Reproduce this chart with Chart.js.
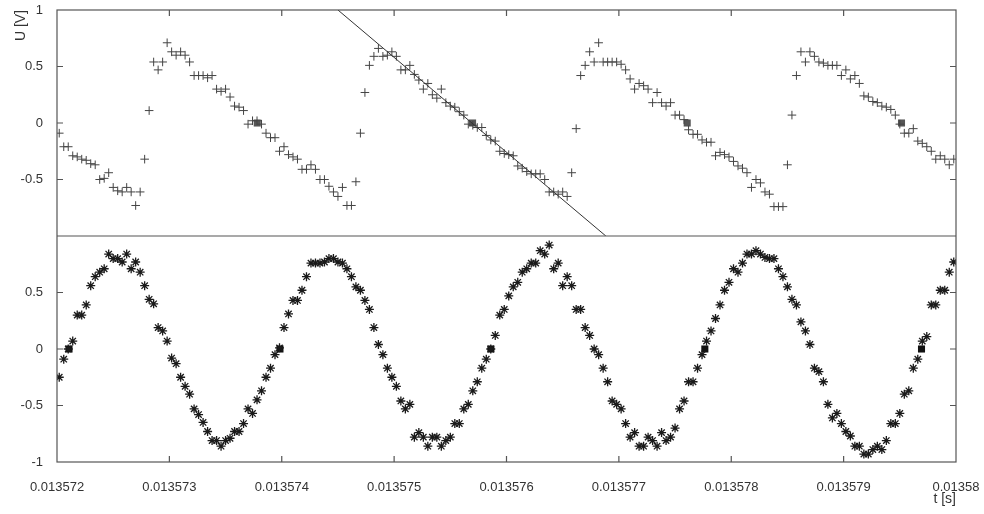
<!DOCTYPE html>
<html>
<head>
<meta charset="utf-8">
<script src="https://cdn.jsdelivr.net/npm/chart.js@4.4.1/dist/chart.umd.min.js"></script>
<style>
html, body { margin: 0; padding: 0; background: #fff; }
</style>
</head>
<body>
<canvas id="grafico" width="984" height="514"></canvas>
<script>
// instantes de muestreo [s]
const tiempos = [
    0.01357202, 0.01357206, 0.01357210, 0.01357214, 0.01357218, 0.01357222, 0.01357226, 0.01357230, 0.01357234, 0.01357238,
    0.01357242, 0.01357246, 0.01357250, 0.01357254, 0.01357258, 0.01357262, 0.01357266, 0.01357270, 0.01357274, 0.01357278,
    0.01357282, 0.01357286, 0.01357290, 0.01357294, 0.01357298,
    0.01357302, 0.01357306, 0.01357310, 0.01357314, 0.01357318, 0.01357322, 0.01357326, 0.01357330, 0.01357334, 0.01357338,
    0.01357342, 0.01357346, 0.01357350, 0.01357354, 0.01357358, 0.01357362, 0.01357366, 0.01357370, 0.01357374, 0.01357378,
    0.01357382, 0.01357386, 0.01357390, 0.01357394, 0.01357398,
    0.01357402, 0.01357406, 0.01357410, 0.01357414, 0.01357418, 0.01357422, 0.01357426, 0.01357430, 0.01357434, 0.01357438,
    0.01357442, 0.01357446, 0.01357450, 0.01357454, 0.01357458, 0.01357462, 0.01357466, 0.01357470, 0.01357474, 0.01357478,
    0.01357482, 0.01357486, 0.01357490, 0.01357494, 0.01357498,
    0.01357502, 0.01357506, 0.01357510, 0.01357514, 0.01357518, 0.01357522, 0.01357526, 0.01357530, 0.01357534, 0.01357538,
    0.01357542, 0.01357546, 0.01357550, 0.01357554, 0.01357558, 0.01357562, 0.01357566, 0.01357570, 0.01357574, 0.01357578,
    0.01357582, 0.01357586, 0.01357590, 0.01357594, 0.01357598,
    0.01357602, 0.01357606, 0.01357610, 0.01357614, 0.01357618, 0.01357622, 0.01357626, 0.01357630, 0.01357634, 0.01357638,
    0.01357642, 0.01357646, 0.01357650, 0.01357654, 0.01357658, 0.01357662, 0.01357666, 0.01357670, 0.01357674, 0.01357678,
    0.01357682, 0.01357686, 0.01357690, 0.01357694, 0.01357698,
    0.01357702, 0.01357706, 0.01357710, 0.01357714, 0.01357718, 0.01357722, 0.01357726, 0.01357730, 0.01357734, 0.01357738,
    0.01357742, 0.01357746, 0.01357750, 0.01357754, 0.01357758, 0.01357762, 0.01357766, 0.01357770, 0.01357774, 0.01357778,
    0.01357782, 0.01357786, 0.01357790, 0.01357794, 0.01357798,
    0.01357802, 0.01357806, 0.01357810, 0.01357814, 0.01357818, 0.01357822, 0.01357826, 0.01357830, 0.01357834, 0.01357838,
    0.01357842, 0.01357846, 0.01357850, 0.01357854, 0.01357858, 0.01357862, 0.01357866, 0.01357870, 0.01357874, 0.01357878,
    0.01357882, 0.01357886, 0.01357890, 0.01357894, 0.01357898,
    0.01357902, 0.01357906, 0.01357910, 0.01357914, 0.01357918, 0.01357922, 0.01357926, 0.01357930, 0.01357934, 0.01357938,
    0.01357942, 0.01357946, 0.01357950, 0.01357954, 0.01357958, 0.01357962, 0.01357966, 0.01357970, 0.01357974, 0.01357978,
    0.01357982, 0.01357986, 0.01357990, 0.01357994, 0.01357998
];

// canal de arriba (diente de sierra) [V]
const tensionSierra = [
    -0.09, -0.21, -0.21, -0.29, -0.30, -0.32, -0.33, -0.36, -0.37, -0.50,
    -0.49, -0.44, -0.57, -0.60, -0.61, -0.57, -0.61, -0.73, -0.61, -0.32,
    0.11, 0.54, 0.47, 0.54, 0.71, 0.63, 0.60, 0.63, 0.60, 0.54,
    0.42, 0.42, 0.42, 0.40, 0.42, 0.30, 0.28, 0.30, 0.23, 0.15,
    0.14, 0.11, -0.01, 0.02, 0.02, -0.01, -0.09, -0.13, -0.13, -0.25,
    -0.21, -0.28, -0.30, -0.32, -0.41, -0.41, -0.37, -0.41, -0.50, -0.50,
    -0.56, -0.61, -0.65, -0.57, -0.73, -0.73, -0.52, -0.09, 0.27, 0.51,
    0.59, 0.66, 0.59, 0.60, 0.63, 0.59, 0.47, 0.47, 0.51, 0.43,
    0.38, 0.30, 0.35, 0.25, 0.22, 0.30, 0.18, 0.15, 0.14, 0.10,
    0.07, -0.01, -0.02, -0.04, -0.04, -0.11, -0.15, -0.16, -0.25, -0.27,
    -0.28, -0.29, -0.38, -0.40, -0.43, -0.45, -0.45, -0.45, -0.50, -0.61,
    -0.61, -0.63, -0.61, -0.65, -0.44, -0.05, 0.42, 0.51, 0.63, 0.54,
    0.71, 0.54, 0.54, 0.54, 0.54, 0.52, 0.47, 0.39, 0.30, 0.35,
    0.33, 0.30, 0.18, 0.27, 0.18, 0.15, 0.18, 0.07, 0.07, 0.03,
    -0.06, -0.10, -0.10, -0.15, -0.17, -0.17, -0.29, -0.26, -0.28, -0.30,
    -0.34, -0.38, -0.40, -0.44, -0.57, -0.50, -0.53, -0.61, -0.63, -0.74,
    -0.74, -0.74, -0.37, 0.07, 0.42, 0.63, 0.54, 0.63, 0.59, 0.54,
    0.53, 0.51, 0.51, 0.51, 0.42, 0.47, 0.39, 0.42, 0.35, 0.24,
    0.23, 0.19, 0.18, 0.15, 0.14, 0.12, 0.07, -0.01, -0.09, -0.09,
    -0.05, -0.16, -0.18, -0.21, -0.25, -0.32, -0.29, -0.32, -0.37, -0.32
];

// canal de abajo (senoidal) [V]
const tensionSeno = [
    -0.25, -0.09, 0.00, 0.07, 0.30, 0.30, 0.39, 0.56, 0.64, 0.68,
    0.71, 0.84, 0.80, 0.80, 0.77, 0.84, 0.71, 0.77, 0.68, 0.56,
    0.44, 0.40, 0.19, 0.16, 0.07, -0.08, -0.13, -0.25, -0.33, -0.40,
    -0.53, -0.58, -0.65, -0.73, -0.81, -0.81, -0.86, -0.81, -0.79, -0.73,
    -0.73, -0.66, -0.53, -0.57, -0.45, -0.37, -0.25, -0.17, -0.05, 0.01,
    0.19, 0.31, 0.43, 0.43, 0.52, 0.64, 0.76, 0.76, 0.76, 0.77,
    0.80, 0.80, 0.77, 0.76, 0.71, 0.64, 0.55, 0.52, 0.43, 0.35,
    0.19, 0.04, -0.05, -0.17, -0.25, -0.33, -0.46, -0.53, -0.49, -0.78,
    -0.74, -0.78, -0.86, -0.78, -0.78, -0.86, -0.81, -0.78, -0.66, -0.66,
    -0.53, -0.49, -0.37, -0.29, -0.17, -0.09, 0.00, 0.12, 0.30, 0.35,
    0.47, 0.55, 0.59, 0.68, 0.71, 0.76, 0.76, 0.87, 0.84, 0.92,
    0.71, 0.76, 0.56, 0.64, 0.56, 0.35, 0.35, 0.19, 0.12, 0.00,
    -0.05, -0.17, -0.29, -0.46, -0.49, -0.53, -0.66, -0.78, -0.74, -0.86,
    -0.86, -0.78, -0.81, -0.86, -0.74, -0.81, -0.78, -0.70, -0.53, -0.46,
    -0.29, -0.29, -0.17, -0.05, 0.07, 0.16, 0.27, 0.39, 0.52, 0.59,
    0.71, 0.68, 0.76, 0.84, 0.84, 0.87, 0.84, 0.81, 0.80, 0.80,
    0.71, 0.64, 0.55, 0.44, 0.39, 0.24, 0.16, 0.04, -0.17, -0.20,
    -0.29, -0.49, -0.61, -0.57, -0.66, -0.73, -0.77, -0.86, -0.86, -0.93,
    -0.93, -0.89, -0.86, -0.89, -0.81, -0.66, -0.66, -0.57, -0.40, -0.37,
    -0.17, -0.09, 0.07, 0.11, 0.39, 0.39, 0.52, 0.52, 0.68, 0.77
];

// cruces por cero marcados con cuadrado [s]
const crucesSierra = [0.013573782, 0.013575698, 0.013577608, 0.013579515];
const crucesSeno = [0.013572107, 0.013573984, 0.013575861, 0.013577765, 0.013579693];

// recta de ajuste en el canal de arriba
const rectaT = [0.0135745, 0.013576884];
const rectaU = [1, -1];

// marcas de los ejes
const ticksX = [0.013572, 0.013573, 0.013574, 0.013575, 0.013576, 0.013577, 0.013578, 0.013579, 0.01358];
const ticksArriba = [-0.5, 0, 0.5, 1];
const ticksAbajo = [-1, -0.5, 0, 0.5];

const fuente = { family: "'Liberation Sans', Arial, sans-serif", size: 13 };
const colorTexto = "#333";

const puntos = (xs, ys) => xs.map((x, i) => ({ x: x, y: ys[i] }));
const ceros = (xs) => xs.map((x) => ({ x: x, y: 0 }));

const marco = {
    id: "marco",
    afterDatasetsDraw(chart) {
        const { ctx, chartArea, scales } = chart;
        const { left, right, top, bottom } = chartArea;
        const largo = 6;
        ctx.save();
        ctx.strokeStyle = "#555";
        ctx.lineWidth = 1.2;
        ctx.strokeRect(left, top, right - left, bottom - top);
        ctx.beginPath();
        ctx.moveTo(left, scales.yTop.bottom);
        ctx.lineTo(right, scales.yTop.bottom);
        ticksX.slice(1, -1).forEach((v) => {
            const px = scales.x.getPixelForValue(v);
            ctx.moveTo(px, top);
            ctx.lineTo(px, top + largo);
            ctx.moveTo(px, bottom);
            ctx.lineTo(px, bottom - largo);
        });
        [["yTop", ticksArriba], ["yBot", ticksAbajo]].forEach(([id, valores]) => {
            valores.forEach((v) => {
                if (Math.abs(v) === 1) return;
                const py = scales[id].getPixelForValue(v);
                ctx.moveTo(left, py);
                ctx.lineTo(left + largo, py);
                ctx.moveTo(right, py);
                ctx.lineTo(right - largo, py);
            });
        });
        ctx.stroke();
        ctx.restore();
    },
};

const ejeY = (valores, peso) => ({
    type: "linear",
    position: "left",
    stack: "canales",
    stackWeight: 1,
    weight: peso,
    min: -1,
    max: 1,
    grid: { display: false, drawTicks: false },
    border: { display: false },
    afterBuildTicks: (eje) => {
        eje.ticks = valores.map((v) => ({ value: v }));
    },
    afterFit: (eje) => {
        eje.width = 57;
        eje.paddingTop = 0;
        eje.paddingBottom = 0;
    },
    ticks: {
        padding: 14,
        color: colorTexto,
        font: fuente,
        callback: (v) => String(v),
    },
});

const escalaArriba = ejeY(ticksArriba, 2);
escalaArriba.title = {
    display: true,
    text: "U [V]",
    align: "end",
    padding: 13,
    color: colorTexto,
    font: { family: fuente.family, size: 14 },
};
const escalaAbajo = ejeY(ticksAbajo, 1);

const config = {
    type: "scatter",
    data: {
        datasets: [
            {
                label: "recta",
                type: "line",
                data: puntos(rectaT, rectaU),
                yAxisID: "yTop",
                borderColor: "#333",
                borderWidth: 1,
                pointRadius: 0,
                fill: false,
            },
            {
                label: "sierra",
                data: puntos(tiempos, tensionSierra),
                yAxisID: "yTop",
                pointStyle: "cross",
                pointRadius: 4.3,
                borderColor: "#444",
                borderWidth: 1,
            },
            {
                label: "cruces sierra",
                data: ceros(crucesSierra),
                yAxisID: "yTop",
                pointStyle: "rect",
                pointRadius: 5,
                backgroundColor: "#555",
                borderWidth: 0,
            },
            {
                label: "seno",
                data: puntos(tiempos, tensionSeno),
                yAxisID: "yBot",
                pointStyle: "star",
                pointRadius: 4.5,
                borderColor: "#1a1a1a",
                borderWidth: 1.3,
            },
            {
                label: "cruces seno",
                data: ceros(crucesSeno),
                yAxisID: "yBot",
                pointStyle: "rect",
                pointRadius: 5,
                backgroundColor: "#111",
                borderWidth: 0,
            },
        ],
    },
    options: {
        responsive: false,
        animation: false,
        devicePixelRatio: 1,
        layout: { padding: { left: 0, right: 28, top: 10, bottom: 0 } },
        plugins: {
            legend: { display: false },
            tooltip: { enabled: false },
        },
        scales: {
            x: {
                type: "linear",
                position: "bottom",
                min: 0.013572,
                max: 0.01358,
                grid: { display: false, drawTicks: false },
                border: { display: false },
                afterBuildTicks: (eje) => {
                    eje.ticks = ticksX.map((v) => ({ value: v }));
                },
                afterFit: (eje) => {
                    eje.height = 52;
                    eje.paddingLeft = 0;
                    eje.paddingRight = 0;
                },
                ticks: {
                    autoSkip: false,
                    maxRotation: 0,
                    padding: 18,
                    color: colorTexto,
                    font: fuente,
                    callback: (v) => String(Number(v.toFixed(6))),
                },
                title: {
                    display: true,
                    text: "t [s]",
                    align: "end",
                    padding: 6,
                    color: colorTexto,
                    font: { family: fuente.family, size: 14 },
                },
            },
            yTop: escalaArriba,
            yBot: escalaAbajo,
        },
    },
    plugins: [marco],
};

const grafico = new Chart(document.getElementById("grafico"), config);
</script>
</body>
</html>
